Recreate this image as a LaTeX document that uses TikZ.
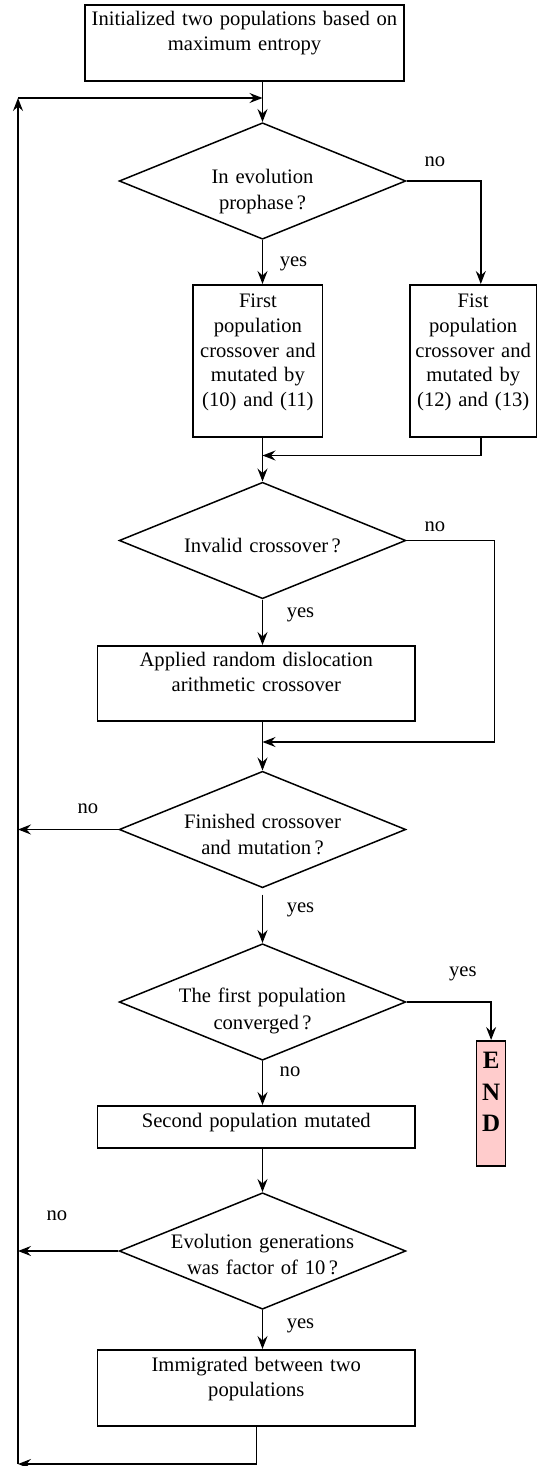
\documentclass[tikz,border=0pt]{standalone}
\usepackage{fontspec}
\setmainfont{Liberation Serif}
\usetikzlibrary{shapes.geometric,arrows.meta}
\definecolor{endpink}{RGB}{255,204,204}
\begin{document}
\begin{tikzpicture}[x=1pt,y=-1pt,
  every node/.style={font=\fontsize{20.6}{24.7}\selectfont},
  procbox/.style={draw,line width=1.7pt,rectangle,inner xsep=2pt,inner ysep=0pt,align=center,anchor=north},
  decision/.style={draw,line width=1.5pt,diamond,aspect=2.47,minimum width=286.6pt,minimum height=116.5pt,inner sep=0pt,text width=190pt,align=center,font=\fontsize{20.6}{26.5}\selectfont},
  endbox/.style={draw,line width=1.5pt,rectangle,fill=endpink,inner sep=0pt,align=center,anchor=north,font=\fontsize{25}{31.5}\selectfont\bfseries},
  arr/.style={line width=1.4pt,-{Stealth[length=13pt,width=10pt,inset=4.5pt]}},
  conn/.style={line width=1.4pt},
  lbl/.style={anchor=base,inner sep=0pt}
]
\useasboundingbox (0,0) rectangle (537,1466);

% process boxes
\node[procbox,text width=314.5pt,text height=21pt,text depth=55pt] (b1) at (244.5,4)
  {Initialized two populations based on\\maximum entropy};
\node[procbox,text width=125.4pt,text height=23pt,text depth=129pt] (b2) at (257.9,284)
  {First\\population\\crossover and\\mutated by\\(10) and (11)};
\node[procbox,text width=122.3pt,text height=23pt,text depth=129pt] (b3) at (473.2,284)
  {Fist\\population\\crossover and\\mutated by\\(12) and (13)};
\node[procbox,text width=313.4pt,text height=21pt,text depth=54pt] (b4) at (256.3,645)
  {Applied random dislocation\\arithmetic crossover};
\node[procbox,text width=313.4pt,text height=22pt,text depth=20pt] (b5) at (256.3,1105)
  {Second population mutated};
\node[procbox,text width=313.4pt,text height=22pt,text depth=54pt] (b6) at (256.3,1349)
  {Immigrated between two\\populations};
\node[endbox,text width=28.8pt,text height=28pt,text depth=97pt] (end) at (491.1,1040)
  {E\\N\\D};

% decisions
\node[decision,text height=14.3pt,text depth=9.7pt] (d1) at (262.5,181)
  {In evolution\\prophase\,?};
\node[decision,text height=23.8pt,text depth=0.2pt] (d2) at (262.5,540.5)
  {Invalid crossover\,?};
\node[decision,text height=10.8pt,text depth=13.2pt] (d3) at (262.5,829.5)
  {Finished crossover\\and mutation\,?};
\node[decision,text height=12.7pt,text depth=11.3pt] (d4) at (262.5,1002)
  {The first population\\converged\,?};
\node[decision,text height=9.3pt,text depth=14.7pt] (d5) at (262.5,1251)
  {Evolution generations\\was factor of 10\,?};

% loop-back line
\coordinate (lt) at (18,98);
\coordinate (lb) at (18,1464);
\coordinate (c1) at (494.2,742);

% connectors
\draw[arr] (d1.north |- b1.south) -- (d1.north);
\draw[arr] (lb) -- (lt);
\draw[arr] (lt) -- (d1.north |- lt);
\draw[arr] (d1.east) -| ([xshift=7.6pt]b3.north);
\draw[arr] (d1.south) -- (d1.south |- b2.north);
\draw[arr] (d1.south |- b2.south) -- (d2.north);
\draw[arr] ([xshift=7.6pt]b3.south) |- ([yshift=26pt]d2.north);
\draw[arr] (d2.east) -| (c1) -- (c1 -| d3.north);
\draw[arr] (d2.south) -- (d2.south |- b4.north);
\draw[arr] (d3.north |- b4.south) -- (d3.north);
\draw[arr] (d3.west) -- (d3.west -| lt);
\draw[arr] ([yshift=-6pt]d3.south) -- (d4.north);
\draw[arr] (d4.east) -| (end.north);
\draw[arr] (d4.south) -- (d4.south |- b5.north);
\draw[arr] (d5.north |- b5.south) -- (d5.north);
\draw[arr] (d5.west) -- (d5.west -| lt);
\draw[arr] (d5.south) -- (d5.south |- b6.north);
\draw[arr] (b6.south) |- (lb);

% labels
\node[lbl] (l1) at (434.9,166.7) {no};
\node[lbl] (l2) at (293.5,266.7) {yes};
\node[lbl] (l3) at (434.9,531.7) {no};
\node[lbl] (l4) at (300.5,617) {yes};
\node[lbl] (l5) at (87.8,813) {no};
\node[lbl] (l6) at (300.5,912.7) {yes};
\node[lbl] (l7) at (462.8,976.7) {yes};
\node[lbl] (l8) at (290,1076.7) {no};
\node[lbl] (l9) at (56.8,1220) {no};
\node[lbl] (l10) at (300.5,1328.3) {yes};
\end{tikzpicture}
\end{document}
